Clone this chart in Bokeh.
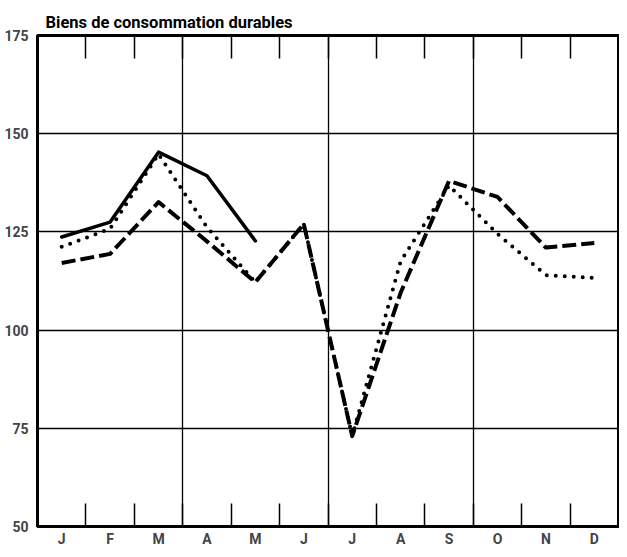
from bokeh.plotting import figure
from bokeh.models import FixedTicker, LinearAxis, Range1d, ColumnDataSource
from bokeh.embed import file_html
from bokeh.resources import INLINE
import numpy as np

months = ["J", "F", "M", "A", "M", "J", "J", "A", "S", "O", "N", "D"]
y_ticks = [50, 75, 100, 125, 150, 175]
solid_vals = [123.7, 127.5, 145.3, 139.3, 122.7, np.nan, np.nan, np.nan, np.nan, np.nan, np.nan, np.nan]
dotted_vals = [121.2, 125.8, 144.8, 126.2, 112.2, 127.0, 73.0, 117.5, 136.8, 124.5, 114.0, 113.3]
dashed_vals = [117.1, 119.4, 132.6, 122.6, 112.2, 127.0, 73.0, 109.5, 138.0, 133.9, 121.0, 122.2]
title_text = "Biens de consommation durables"

FONT = "Roboto"

xpos = [i + 0.5 for i in range(len(months))]
src = ColumnDataSource(dict(x=xpos, solid=solid_vals, dotted=dotted_vals, dashed=dashed_vals))

p = figure(width=619, height=549, output_backend="svg", toolbar_location=None,
           x_range=Range1d(0, 12), y_range=Range1d(50, 175),
           min_border_left=37, min_border_right=1, min_border_top=35, min_border_bottom=22,
           x_axis_location=None, y_axis_location=None)
p.outline_line_color = "black"
p.outline_line_width = 3
p.background_fill_color = "white"
p.border_fill_color = "white"

p.title.text = title_text
p.title.align = "left"
p.title.offset = 8
p.title.standoff = 7
p.title.text_font = FONT
p.title.text_font_style = "bold"
p.title.text_font_size = "16.5px"
p.title.text_color = "black"

mid_ticks = FixedTicker(ticks=xpos, minor_ticks=list(range(1, 12)))

# bottom axis with month labels and inner ticks
xb = LinearAxis(ticker=mid_ticks)
xb.major_label_overrides = {x: m for x, m in zip(xpos, months)}
xb.major_tick_in = 0
xb.major_tick_out = 0
xb.minor_tick_in = 23
xb.minor_tick_out = 0
xb.minor_tick_line_width = 1.5
xb.axis_line_width = 3
xb.major_label_text_font = FONT
xb.major_label_text_font_style = "bold"
xb.major_label_text_font_size = "14px"
xb.major_label_standoff = 4
p.add_layout(xb, "below")

# top axis, ticks only
xt = LinearAxis(ticker=mid_ticks)
xt.major_label_overrides = {x: "" for x in xpos}
xt.major_label_text_font_size = "0px"
xt.major_label_standoff = 0
xt.major_tick_in = 0
xt.major_tick_out = 0
xt.minor_tick_in = 23
xt.minor_tick_out = 0
xt.minor_tick_line_width = 1.5
xt.axis_line_width = 3
p.add_layout(xt, "above")

ya = LinearAxis(ticker=FixedTicker(ticks=y_ticks))
ya.major_tick_in = 0
ya.major_tick_out = 0
ya.minor_tick_in = 0
ya.minor_tick_out = 0
ya.axis_line_width = 3
ya.major_label_text_font = FONT
ya.major_label_text_font_style = "bold"
ya.major_label_text_font_size = "14px"
ya.major_label_standoff = 9
p.add_layout(ya, "left")

p.xgrid.ticker = FixedTicker(ticks=[3, 6, 9])
p.xgrid.grid_line_color = "black"
p.xgrid.grid_line_width = 1.3
p.ygrid.ticker = FixedTicker(ticks=[75, 100, 125, 150])
p.ygrid.grid_line_color = "black"
p.ygrid.grid_line_width = 1.3
p.xgrid.level = "underlay"
p.ygrid.level = "underlay"

p.line("x", "solid", source=src, line_color="black", line_width=3.5, line_join="round", line_cap="round")
p.line("x", "dashed", source=src, line_color="black", line_width=4, line_dash="14 5", line_join="round")
p.line("x", "dotted", source=src, line_color="black", line_width=4, line_dash="0 9", line_cap="round", line_join="round")

open("out.html", "w").write(file_html(p, INLINE))
